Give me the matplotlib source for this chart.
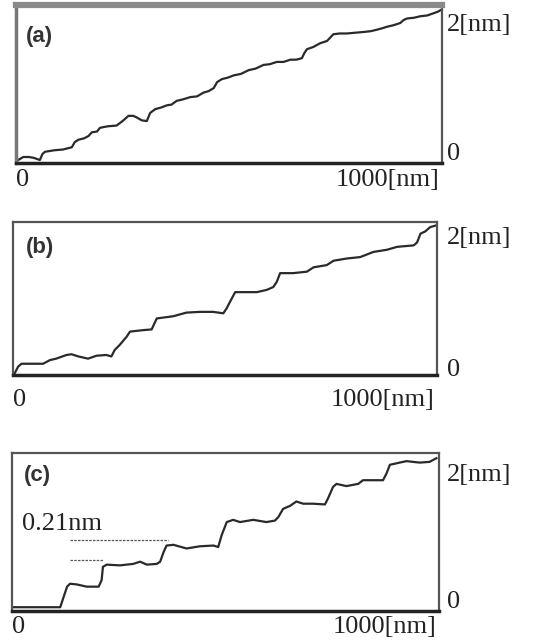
import matplotlib
matplotlib.use("Agg")
import matplotlib.pyplot as plt

# profile traces, x in nm, height in nm
x_a = [5, 17, 30, 41, 56, 62, 68, 90, 110, 131, 138, 146, 160, 170, 178, 190,
       197, 215, 236, 250, 264, 275, 283, 295, 307, 315, 327, 340, 354, 365,
       377, 392, 409, 425, 440, 452, 464, 472, 483, 497, 511, 528, 546, 562,
       581, 596, 612, 628, 644, 658, 671, 677, 683, 698, 714, 730, 745, 760,
       777, 796, 816, 832, 847, 860, 871, 886, 902, 910, 918, 934, 949, 965,
       980, 990, 996]
h_a = [0.04, 0.08, 0.08, 0.07, 0.04, 0.12, 0.15, 0.17, 0.18, 0.21, 0.28, 0.31,
       0.33, 0.36, 0.41, 0.42, 0.47, 0.49, 0.50, 0.56, 0.63, 0.63, 0.61, 0.57,
       0.56, 0.67, 0.72, 0.74, 0.77, 0.78, 0.83, 0.85, 0.88, 0.89, 0.94, 0.96,
       1.00, 1.08, 1.12, 1.14, 1.17, 1.19, 1.24, 1.26, 1.31, 1.32, 1.35, 1.35,
       1.38, 1.38, 1.40, 1.47, 1.52, 1.55, 1.60, 1.63, 1.72, 1.73, 1.73, 1.74,
       1.75, 1.76, 1.78, 1.80, 1.82, 1.84, 1.87, 1.91, 1.93, 1.94, 1.96, 1.97,
       2.00, 2.02, 2.04]

x_b = [4, 12, 20, 71, 87, 102, 126, 138, 154, 177, 197, 220, 232, 240, 252, 268,
       276, 307, 327, 339, 378, 409, 441, 472, 496, 504, 512, 524, 575, 598, 614,
       622, 630, 661, 693, 709, 740, 756, 787, 819, 850, 882, 906, 945, 953, 961,
       972, 984, 996]
h_b = [0.01, 0.10, 0.14, 0.14, 0.19, 0.21, 0.26, 0.27, 0.24, 0.21, 0.25, 0.26,
       0.24, 0.33, 0.40, 0.51, 0.58, 0.60, 0.61, 0.76, 0.79, 0.84, 0.85, 0.85,
       0.83, 0.90, 0.99, 1.12, 1.12, 1.15, 1.19, 1.26, 1.38, 1.38, 1.40, 1.46,
       1.49, 1.55, 1.58, 1.60, 1.67, 1.70, 1.74, 1.76, 1.80, 1.92, 1.95, 2.01,
       2.03]

x_c = [4, 113, 121, 129, 136, 152, 175, 203, 210, 213, 222, 253, 284, 300, 316,
       339, 347, 355, 362, 378, 409, 440, 472, 483, 491, 503, 518, 534, 565, 596,
       616, 624, 635, 651, 666, 682, 705, 733, 740, 752, 760, 783, 811, 822, 869,
       877, 885, 908, 924, 939, 955, 978, 994]
h_c = [0.02, 0.02, 0.16, 0.30, 0.34, 0.33, 0.30, 0.30, 0.39, 0.57, 0.60, 0.59,
       0.61, 0.64, 0.60, 0.61, 0.64, 0.77, 0.86, 0.87, 0.82, 0.85, 0.86, 0.84,
       1.00, 1.18, 1.21, 1.18, 1.21, 1.18, 1.20, 1.25, 1.36, 1.40, 1.46, 1.43,
       1.43, 1.42, 1.50, 1.66, 1.70, 1.67, 1.70, 1.75, 1.75, 1.84, 1.96, 1.99,
       2.01, 2.00, 1.99, 2.00, 2.05]

# step markers in panel (c)
step_x = [[136, 366], [136, 214]]
step_h = [0.93, 0.66]

panels = [
    # label, x, h, axes rect, ylim, label pos, 2nm y, 0 y, right x, bottom y
    ("(a)", x_a, h_a, [0.0293, 0.7469, 0.7788, 0.2453], (0, 2.11), (0.024, 0.80), 0.873, 0.057, 1.012, -0.108),
    ("(b)", x_b, h_b, [0.0238, 0.4177, 0.7751, 0.2376], (-0.014, 2.08), (0.031, 0.83), 0.895, 0.033, 1.024, -0.163),
    ("(c)", x_c, h_c, [0.0219, 0.0512, 0.7806, 0.2453], (-0.032, 2.12), (0.028, 0.86), 0.861, 0.057, 1.019, -0.101),
]

serif = "Liberation Serif"
sans = "Liberation Sans"
ink = "#222222"

fig = plt.figure(figsize=(5.47, 6.44), dpi=100)

for i, (lab, xs, hs, rect, ylim, lpos, y2, y0, xr, yb) in enumerate(panels):
    ax = fig.add_axes(rect)
    ax.plot(xs, hs, color="#2a2a2a", lw=1.6)
    ax.set_xlim(0, 1000)
    ax.set_ylim(*ylim)
    ax.set_xticks([])
    ax.set_yticks([])
    for side in ["left", "right", "top"]:
        ax.spines[side].set_color("#555555")
        ax.spines[side].set_linewidth(1.6)
    ax.spines["bottom"].set_color(ink)
    ax.spines["bottom"].set_linewidth(2.5)
    if i == 0:
        ax.spines["top"].set_color("#8a8a8a")
        ax.spines["top"].set_linewidth(4.5)
        ax.spines["left"].set_color("#777777")
        ax.spines["left"].set_linewidth(2.5)

    ax.text(lpos[0], lpos[1], lab, transform=ax.transAxes, family=sans,
            fontsize=16, fontweight="bold", ha="left", va="center", color="#333333")
    ax.text(xr, y2, "2[nm]", transform=ax.transAxes, family=serif,
            fontsize=19, ha="left", va="center", color=ink)
    ax.text(xr, y0, "0", transform=ax.transAxes, family=serif,
            fontsize=19, ha="left", va="center", color=ink)
    ax.text(0.0, yb, "0", transform=ax.transAxes, family=serif,
            fontsize=19, ha="left", va="center", color=ink)
    ax.text(0.995, yb, "1000[nm]", transform=ax.transAxes, family=serif,
            fontsize=19, ha="right", va="center", color=ink)

    if lab == "(c)":
        for sx, sh in zip(step_x, step_h):
            ax.plot(sx, [sh, sh], color="#555555", lw=0.9, ls=(0, (2, 1)))
        ax.text(23, 1.16, "0.21nm", family=serif, fontsize=19,
                ha="left", va="center", color=ink)

fig.savefig("out.png", dpi=100)
